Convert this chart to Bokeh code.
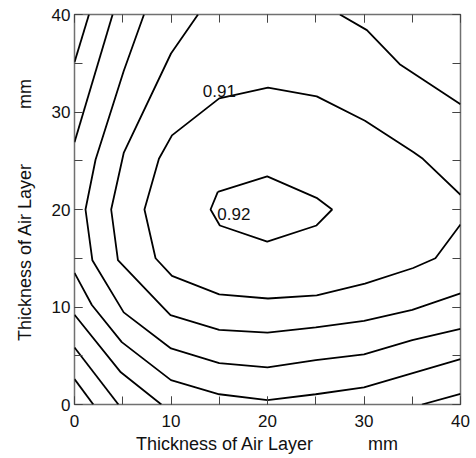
from bokeh.plotting import figure
from bokeh.models import FixedTicker, LinearAxis, Range1d, Label
from bokeh.embed import file_html
from bokeh.resources import INLINE

# ---- data ----
major_ticks = [0, 10, 20, 30, 40]
minor_ticks = [0, 5, 10, 15, 20, 25, 30, 35, 40]
tick_labels = ["0", "10", "20", "30", "40"]
axis_title = "Thickness of Air Layer" + "\u00a0" * 11 + "mm"

# contour level 0.92 (closed)
c092_x = [14.85, 19.97, 25.08, 26.7, 25.08, 19.97, 15.06, 14.1, 14.85]
c092_y = [21.8, 23.4, 21.2, 20.0, 18.36, 16.7, 18.36, 20.0, 21.8]
# contour level 0.91
c091_x = [40, 36.1, 35.1, 30.1, 25.1, 20.05, 15.0, 10.1, 8.75, 7.25, 8.4, 10.1, 15.0, 20.05, 25.1, 30.1, 35.1, 37.4, 40]
c091_y = [21.5, 25.2, 25.9, 29.1, 31.6, 32.5, 31.4, 27.6, 25.2, 20.0, 15.0, 13.2, 11.3, 10.87, 11.2, 12.4, 14.0, 15.0, 18.46]
# contour level 0.90 (two pieces)
c090a_x = [12.8, 10.0, 5.1, 3.8, 4.5, 9.05, 9.95, 15.0, 20.0, 25.0, 30.0, 35.0, 40]
c090a_y = [40, 36.0, 25.8, 20.0, 14.8, 10.1, 9.16, 7.65, 7.38, 7.9, 8.58, 9.7, 11.4]
c090b_x = [27.5, 30.3, 33.7, 40]
c090b_y = [40, 38.4, 34.9, 30.8]
# contour level 0.89
c089_x = [7.2, 5.1, 2.18, 1.14, 1.85, 5.1, 10.0, 15.0, 20.0, 25.0, 30.0, 35.0, 40]
c089_y = [40, 34.2, 25.1, 20.0, 14.8, 9.45, 5.75, 4.25, 3.8, 4.55, 5.15, 6.6, 7.75]
# contour level 0.88 (two pieces)
c088a_x = [0, 1.8, 4.9, 10.0, 15.0, 20.0, 25.0, 30.0, 40]
c088a_y = [13.5, 10.2, 6.4, 2.5, 1.05, 0.45, 1.05, 1.75, 4.65]
c088b_x = [0, 3.95]
c088b_y = [26.9, 40]
# contour level 0.87 (three pieces)
c087a_x = [0, 4.8, 9.0]
c087a_y = [9.2, 3.3, 0]
c087b_x = [0, 1.5]
c087b_y = [35.1, 40]
c087c_x = [36.0, 40]
c087c_y = [0, 1.1]
# contour level 0.86
c086_x = [0, 4.55]
c086_y = [5.85, 0]
# contour level 0.85
c085_x = [0, 1.95]
c085_y = [2.6, 0]

contour_xs = [c092_x, c091_x, c090a_x, c090b_x, c089_x, c088a_x, c088b_x,
              c087a_x, c087b_x, c087c_x, c086_x, c085_x]
contour_ys = [c092_y, c091_y, c090a_y, c090b_y, c089_y, c088a_y, c088b_y,
              c087a_y, c087b_y, c087c_y, c086_y, c085_y]

level_labels = ["0.91", "0.92"]
level_label_x = [13.3, 14.8]
level_label_y = [32.2, 19.56]

FONT = "Liberation Sans"

p = figure(width=476, height=458, x_range=Range1d(0, 40), y_range=Range1d(0, 40),
           output_backend="svg", toolbar_location=None,
           min_border_left=74, min_border_right=16, min_border_top=14, min_border_bottom=54,
           x_axis_location=None, y_axis_location=None)
p.grid.visible = False
p.outline_line_color = "#707070"
p.outline_line_width = 1.5
p.background_fill_color = "white"
p.border_fill_color = "white"

ticker = FixedTicker(ticks=major_ticks, minor_ticks=minor_ticks)
overrides = {t: s for t, s in zip(major_ticks, tick_labels)}


def make_axis(show_labels):
    ax = LinearAxis(ticker=ticker)
    ax.axis_line_color = None
    ax.major_tick_in = 8
    ax.major_tick_out = 0
    ax.minor_tick_in = 8
    ax.minor_tick_out = 0
    ax.major_tick_line_color = "#444444"
    ax.minor_tick_line_color = "#444444"
    ax.major_tick_line_width = 1
    ax.minor_tick_line_width = 1
    ax.major_label_overrides = overrides
    ax.major_label_text_font = FONT
    if show_labels:
        ax.major_label_text_font_size = "17px"
        ax.major_label_text_color = "#111111"
        ax.axis_label = axis_title
        ax.axis_label_text_font = FONT
        ax.axis_label_text_font_size = "18px"
        ax.axis_label_text_font_style = "normal"
        ax.axis_label_text_color = "#111111"
    else:
        ax.major_label_text_font_size = "1px"
        ax.major_label_text_color = None
        ax.major_label_standoff = 0
    return ax


bottom = make_axis(True)
bottom.major_label_standoff = 10
bottom.axis_label_standoff = 4
left = make_axis(True)
left.major_label_standoff = 4
left.axis_label_standoff = 14
top = make_axis(False)
right = make_axis(False)

p.add_layout(bottom, "below")
p.add_layout(left, "left")
p.add_layout(top, "above")
p.add_layout(right, "right")

p.multi_line(xs=contour_xs, ys=contour_ys, line_color="black", line_width=1.8)

for t, lx, ly in zip(level_labels, level_label_x, level_label_y):
    p.add_layout(Label(x=lx, y=ly, text=t, text_font=FONT, text_font_size="17px",
                       text_color="#111111", text_align="left", text_baseline="alphabetic"))

open("out.html", "w").write(file_html(p, INLINE))
